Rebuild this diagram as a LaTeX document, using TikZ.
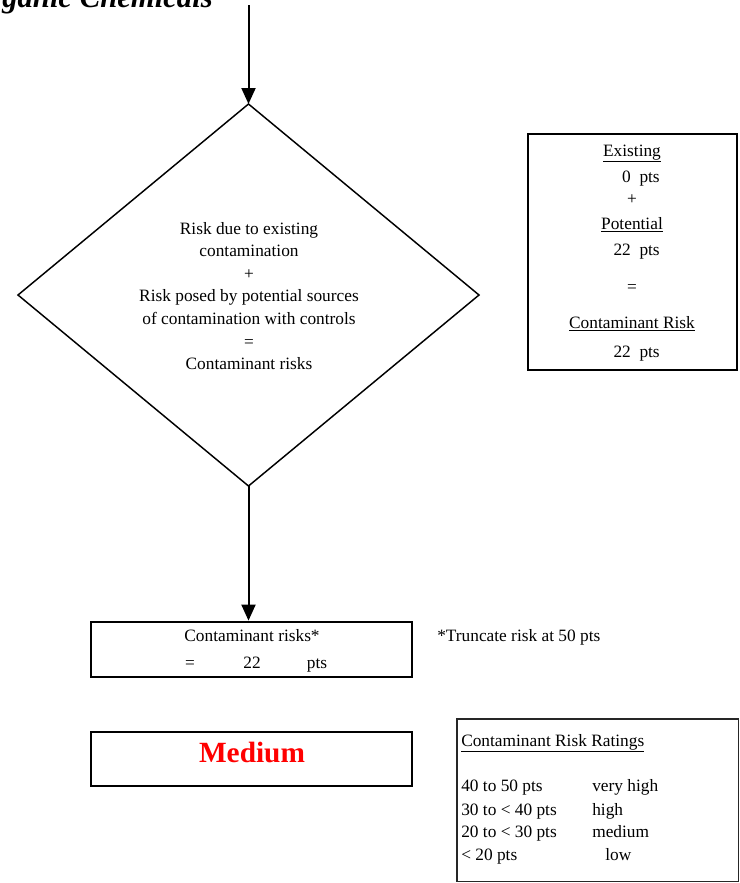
\documentclass[tikz,border=0pt]{standalone}
\usepackage{fontspec}
\setmainfont{Liberation Serif}
\usetikzlibrary{arrows.meta}
\begin{document}
\begin{tikzpicture}[x=0.75pt,y=-0.75pt,
  lbl/.style={font=\fontsize{13}{16}\selectfont, inner sep=0pt, anchor=mid},
  lbll/.style={lbl, anchor=mid west},
  lblr/.style={lbl, anchor=mid east},
  flow/.style={line width=1.5pt, -{Triangle[length=12pt,width=10.5pt]}},
  thickbox/.style={draw, line width=2.1pt, inner sep=0pt},
  thinbox/.style={draw=black!85, line width=1.3pt, inner sep=0pt},
  decision/.style={line width=1.1pt, line join=miter}]
\useasboundingbox (0,0) rectangle (740,883);
\clip (0,0) rectangle (740,883);
% title (cut off at top)
\node[font=\fontsize{23}{27}\bfseries\itshape\selectfont, anchor=base east, inner sep=0pt] (title) at (213,7) {Organic Chemicals};
% diamond
\coordinate (start) at (248.5,5);
\coordinate (dT) at (248.5,104);
\coordinate (dL) at (18,295);
\coordinate (dR) at (479,295);
\coordinate (dB) at (248.5,486);
\draw[decision] (dT) -- (dR) -- (dB) -- (dL) -- cycle;
\node[font=\fontsize{13}{16.9}\selectfont, align=center, inner sep=0pt] (dtext) at (249,296)
  {Risk due to existing\\contamination\\+\\Risk posed by potential sources\\of contamination with controls\\=\\Contaminant risks};
\draw[flow] (start) -- (dT);
% contaminant risks box
\node[thickbox, minimum width=240.75pt, minimum height=41.25pt] (cbox) at (251.5,649.5) {};
\draw[flow] (dB) -- (dB |- cbox.north);
\node[lbl] (cr) at (252,638) {Contaminant risks*};
\node[lbl] (ceq) at (190,665) {=};
\node[lbl] (cnum) at (252,665) {22};
\node[lbl] (cpts) at (317,665) {pts};
\node[lbll] (trunc) at (437,638) {*Truncate risk at 50 pts};
% medium box
\node[thickbox, minimum width=240.75pt, minimum height=40.5pt] (mbox) at (251.5,759) {};
\node[font=\fontsize{22}{24}\bfseries\selectfont, text=red, inner sep=0pt, anchor=mid] (med) at (252,759) {Medium};
% existing box
\node[thickbox, minimum width=156.75pt, minimum height=177pt] (ebox) at (632.5,252) {};
\node[lbl] (e1) at (632,153) {\underline{Existing}};
\node[lblr] (e2) at (660,179) {0~ pts};
\node[lbl] (e3) at (632,201) {+};
\node[lbl] (e4) at (632,226) {\underline{Potential}};
\node[lblr] (e5) at (660,252) {22~ pts};
\node[lbl] (e6) at (632,289) {=};
\node[lbl] (e7) at (632,325) {\underline{Contaminant Risk}};
\node[lblr] (e8) at (660,354) {22~ pts};
% ratings box
\node[thinbox, minimum width=211.1pt, minimum height=121.9pt] (rbox) at (597.75,800.25) {};
\node[lbll] (rt) at (461,743) {\underline{Contaminant Risk Ratings}};
\node[lbll] (r1a) at (461,788) {40 to 50 pts};
\node[lbll] (r1b) at (592,788) {very high};
\node[lbll] (r2a) at (461,812) {30 to < 40 pts};
\node[lbll] (r2b) at (592,812) {high};
\node[lbll] (r3a) at (461,834) {20 to < 30 pts};
\node[lbll] (r3b) at (592,834) {medium};
\node[lbll] (r4a) at (461,857) {< 20 pts};
\node[lbll] (r4b) at (605,857) {low};
\end{tikzpicture}
\end{document}
